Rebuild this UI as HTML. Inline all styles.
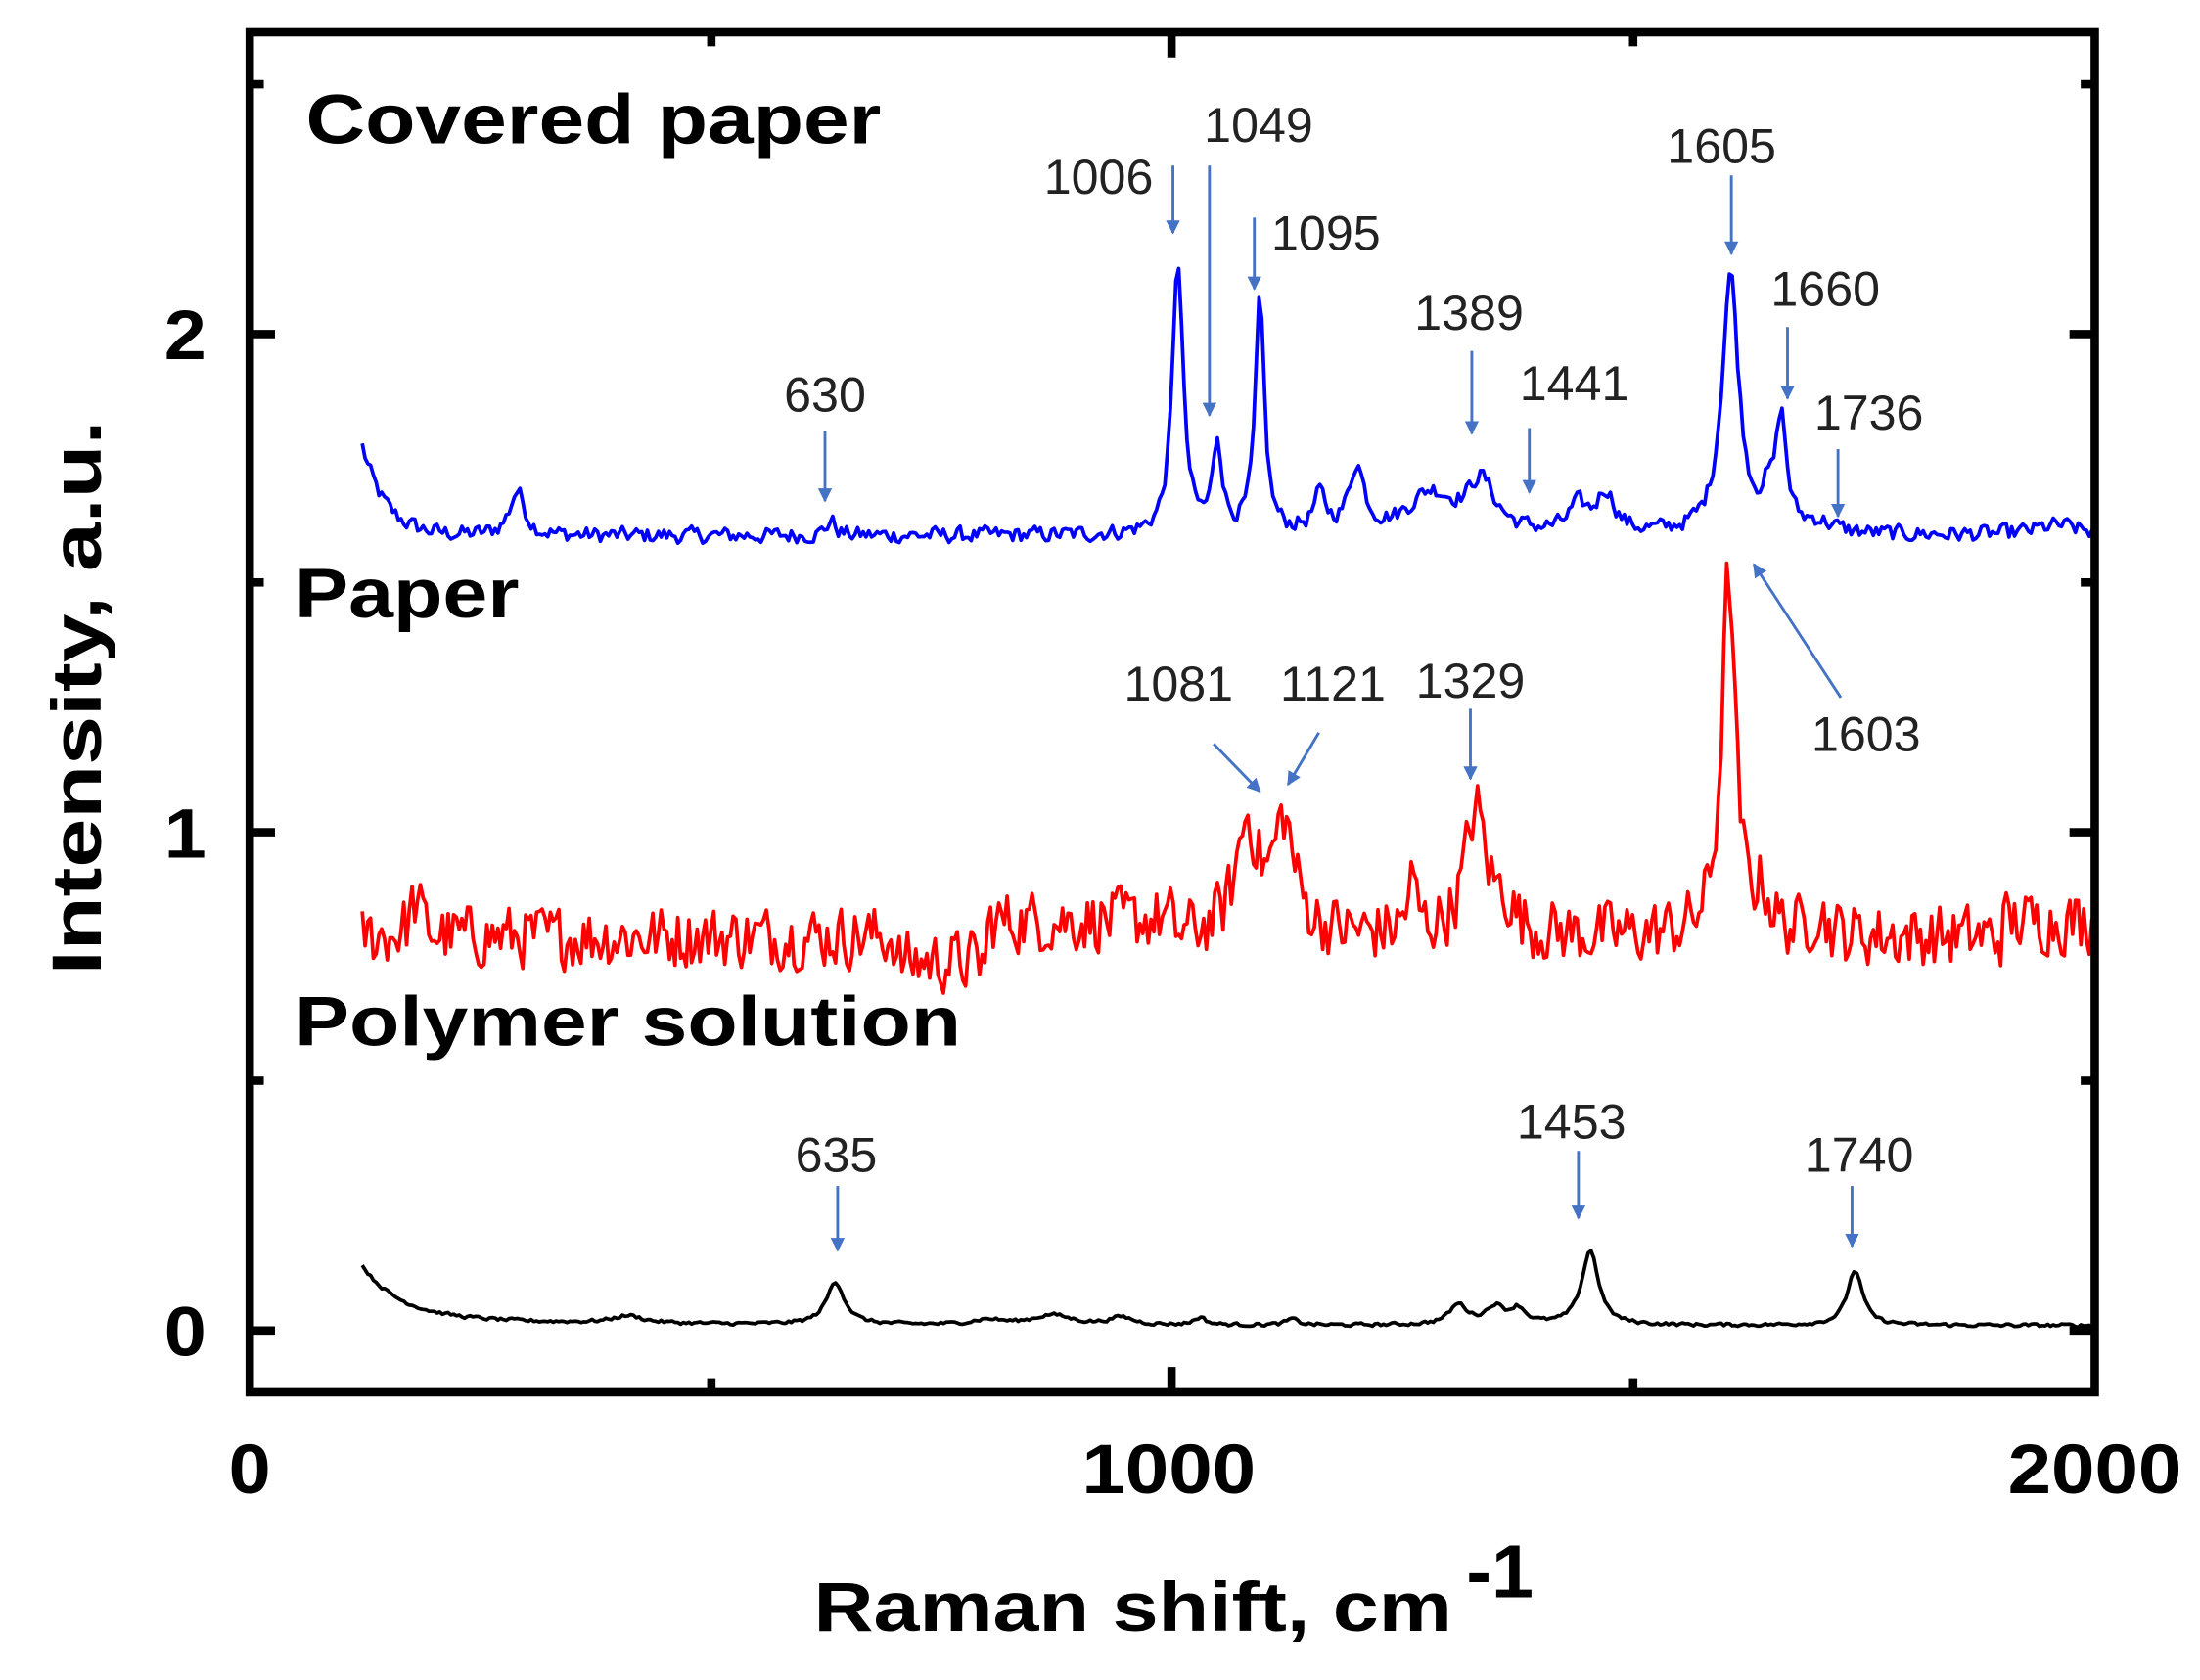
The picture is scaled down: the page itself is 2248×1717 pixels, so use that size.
<!DOCTYPE html>
<html><head><meta charset="utf-8"><style>
html,body{margin:0;padding:0;background:#fff;}
svg{display:block;}
text{font-family:"Liberation Sans",sans-serif;}
</style></head><body>
<svg id="s" width="2248" height="1717" viewBox="0 0 1568 1197" preserveAspectRatio="none" xmlns="http://www.w3.org/2000/svg">
<defs><marker id="ah" viewBox="0 0 10 10" refX="9" refY="5" markerWidth="5" markerHeight="6" orient="auto"><path d="M0,0 L10,5 L0,10 z" fill="#4472c4"/></marker></defs>
<g id="curves" fill="none" stroke-width="2.6" stroke-linejoin="round"></g>
<rect x="178" y="23" width="1315" height="969" fill="none" stroke="#000" stroke-width="6"/>
<g stroke="#000" stroke-width="6">
<line x1="178" y1="948" x2="196" y2="948"/><line x1="178" y1="593" x2="196" y2="593"/><line x1="178" y1="238" x2="196" y2="238"/>
<line x1="178" y1="770" x2="188" y2="770"/><line x1="178" y1="415" x2="188" y2="415"/><line x1="178" y1="60" x2="188" y2="60"/>
<line x1="1493" y1="948" x2="1475" y2="948"/><line x1="1493" y1="593" x2="1475" y2="593"/><line x1="1493" y1="238" x2="1475" y2="238"/>
<line x1="1493" y1="770" x2="1483" y2="770"/><line x1="1493" y1="415" x2="1483" y2="415"/><line x1="1493" y1="60" x2="1483" y2="60"/>
<line x1="835" y1="992" x2="835" y2="974"/><line x1="507" y1="992" x2="507" y2="982"/><line x1="1164" y1="992" x2="1164" y2="982"/>
<line x1="835" y1="23" x2="835" y2="41"/><line x1="507" y1="23" x2="507" y2="33"/><line x1="1164" y1="23" x2="1164" y2="33"/>
</g>
<g font-weight="bold" font-size="50" fill="#000">
<text x="132" y="966" text-anchor="middle" textLength="30" lengthAdjust="spacingAndGlyphs">0</text>
<text x="132" y="611" text-anchor="middle" textLength="30" lengthAdjust="spacingAndGlyphs">1</text>
<text x="132" y="256" text-anchor="middle" textLength="30" lengthAdjust="spacingAndGlyphs">2</text>
<text x="178" y="1064" text-anchor="middle" textLength="30" lengthAdjust="spacingAndGlyphs">0</text>
<text x="833" y="1064" text-anchor="middle" textLength="124" lengthAdjust="spacingAndGlyphs">1000</text>
<text x="1493" y="1064" text-anchor="middle" textLength="124" lengthAdjust="spacingAndGlyphs">2000</text>
<text x="580" y="1162" textLength="455" lengthAdjust="spacingAndGlyphs">Raman shift, cm</text>
<text x="1045" y="1138" font-size="54">-1</text>
<text transform="translate(72,497) rotate(-90)" text-anchor="middle" textLength="395" lengthAdjust="spacingAndGlyphs">Intensity, a.u.</text>
<text x="218" y="102" textLength="410" lengthAdjust="spacingAndGlyphs">Covered paper</text>
<text x="210" y="440" textLength="160" lengthAdjust="spacingAndGlyphs">Paper</text>
<text x="210" y="745" textLength="475" lengthAdjust="spacingAndGlyphs">Polymer solution</text>
</g>
<g stroke="#4472c4" stroke-width="2" marker-end="url(#ah)">
<line x1="588" y1="307" x2="588" y2="357"/>
<line x1="836" y1="118" x2="836" y2="166"/>
<line x1="862" y1="118" x2="862" y2="296"/>
<line x1="894" y1="155" x2="894" y2="206"/>
<line x1="1049" y1="250" x2="1049" y2="309"/>
<line x1="1090" y1="305" x2="1090" y2="351"/>
<line x1="1234" y1="125" x2="1234" y2="181"/>
<line x1="1274" y1="233" x2="1274" y2="284"/>
<line x1="1310" y1="320" x2="1310" y2="368"/>
<line x1="1312" y1="497" x2="1250" y2="402"/>
<line x1="865" y1="530" x2="898" y2="564"/>
<line x1="940" y1="522" x2="918" y2="559"/>
<line x1="1048" y1="505" x2="1048" y2="555"/>
<line x1="597" y1="845" x2="597" y2="891"/>
<line x1="1125" y1="820" x2="1125" y2="868"/>
<line x1="1320" y1="845" x2="1320" y2="888"/>
</g>
<g font-size="35" fill="#222" text-anchor="middle">
<text x="588" y="293">630</text>
<text x="783" y="138">1006</text>
<text x="897" y="101">1049</text>
<text x="945" y="178">1095</text>
<text x="1047" y="235">1389</text>
<text x="1122" y="285">1441</text>
<text x="1227" y="116">1605</text>
<text x="1301" y="218">1660</text>
<text x="1332" y="306">1736</text>
<text x="1330" y="535">1603</text>
<text x="840" y="499">1081</text>
<text x="950" y="499">1121</text>
<text x="1048" y="497">1329</text>
<text x="596" y="835">635</text>
<text x="1120" y="811">1453</text>
<text x="1325" y="835">1740</text>
</g>
</svg>
<script>
(function(){
var seed=12345;function rnd(){seed=(seed*1103515245+12345)%2147483648;return seed/2147483648;}
function X(c){return 178+c*0.6575;}function Y(v){return 948-v*355;}
function L(x,c,w,h){var d=(x-c)/w;return h/(1+d*d);}
function build(base,peaks,noise,smooth,step){
 var pts=[],n=0;
 for(var c=122;c<=2000;c+=step){
  var v=base(c);
  for(var i=0;i<peaks.length;i++){var p=peaks[i];v+=L(c,p[0],p[1],p[2]);}
  n=n*smooth+(rnd()-0.5)*noise;v+=n;
  pts.push(X(c).toFixed(1)+","+Y(v).toFixed(1));
 }
 return "M"+pts.join("L");
}
var blue=build(function(c){return 1.595+0.18*Math.exp(-(c-122)/25);},
 [[290,10,0.09],[630,6,0.03],[1006,7,0.55],[1049,6,0.18],[1095,6,0.46],[1160,8,0.07],[1200,10,0.13],[1280,30,0.08],[1335,18,0.1],[1440,12,0.05],[1470,12,0.08],[1605,11,0.52],[1645,8,0.05],[1660,7,0.22],[1700,20,0.02],[1960,30,0.02]],
 0.03,0.3,3);
var red=build(function(c){var b=0.79;if(c>700&&c<800)b-=0.05;if(c>800&&c<1000)b+=0.03;if(c>1900)b+=0.03;return b;},
 [[180,8,0.07],[1081,14,0.22],[1121,14,0.22],[1260,6,0.1],[1329,14,0.25],[1360,12,0.05],[1603,9,0.72],[1640,10,0.07],[1700,8,0.05]],
 0.12,0.2,3);
var black=build(function(c){return 0.01+0.1*Math.exp(-(c-122)/40)+0.02*Math.exp(-(c-122)/200);},
 [[410,20,0.015],[635,12,0.085],[800,20,0.01],[870,25,0.02],[945,15,0.015],[1030,8,0.015],[1130,8,0.012],[1310,12,0.04],[1350,12,0.035],[1375,10,0.03],[1453,11,0.15],[1740,10,0.11]],
 0.006,0.3,3);
var g=document.getElementById("curves");
[["#ff0000",red],["#0000ff",blue],["#000000",black]].forEach(function(a){
 var p=document.createElementNS("http://www.w3.org/2000/svg","path");
 p.setAttribute("d",a[1]);p.setAttribute("stroke",a[0]);g.appendChild(p);});
})();
</script>
</body></html>
